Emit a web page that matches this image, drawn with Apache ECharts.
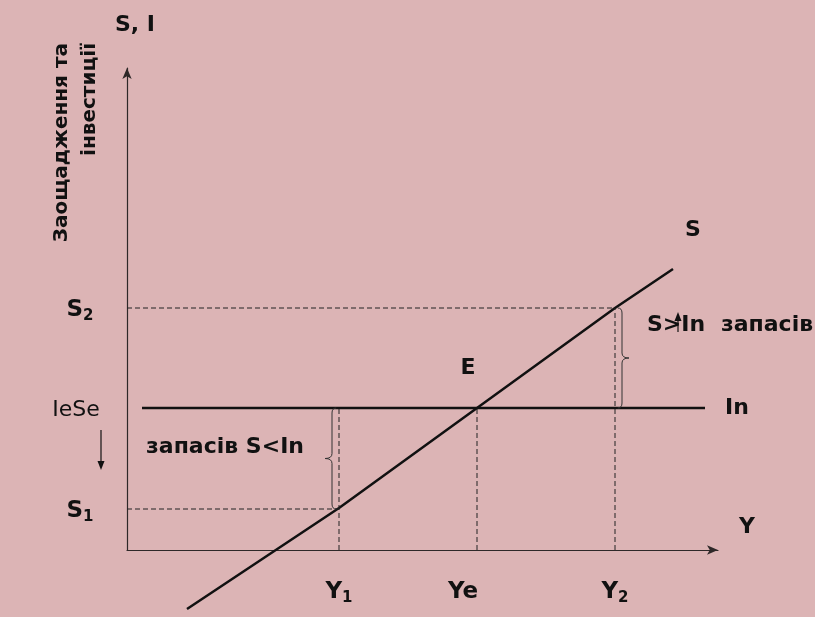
<!DOCTYPE html>
<html>
<head>
<meta charset="utf-8">
<script src="https://cdn.jsdelivr.net/npm/echarts@6/dist/echarts.min.js"></script>
<style>
  html, body { margin: 0; padding: 0; background: #dcb4b5; }
  #main { width: 815px; height: 617px; }
</style>
</head>
<body>
<div id="main"></div>
<script>
// schematic units: x = income Y, y = savings / investment
var yTickValues = [41, 142, 242];
var yTickNames = ["S1", "IeSe", "S2"];
var xTickValues = [212, 350, 488];
var xTickNames = ["Y1", "Ye", "Y2"];

// savings line S
var sLineX = [60, 212, 350, 488, 546];
var sLineY = [-59, 42, 142, 242, 281];

// investment line In
var inX = [15, 578];
var inLevel = 142;

// dashed guides [x0, y0, x1, y1]
var guides = [
  [0, 242, 488, 242],
  [0, 41, 212, 41],
  [212, 0, 212, 142],
  [350, 0, 350, 142],
  [488, 0, 488, 242]
];

// braces [x, yFrom, yTo, tipDirection]
var braces = [
  [205, 41, 142, -1],
  [495, 142, 242, 1]
];

// small arrows [x, yFrom, yTo]
var arrows = [
  [-26, 120, 80],
  [551, 218, 238]
];

// text notes
var noteText = ["S, I", "S", "E", "In", "Y", "S>In", "запасів", "запасів S<In"];
var noteX = [8, 566, 341, 610, 620, 549, 640, 98];
var noteY = [525, 320, 182, 142, 23, 225, 225, 103];

var sideText = ["Заощадження та", "інвестиції"];
var sideX = [-65, -37];
var sideY = [507, 507];

var BOLD = "DejaVu Sans";

function lineSeries(pts, style) {
  return {
    type: "line",
    data: pts,
    symbol: "none",
    silent: true,
    clip: false,
    lineStyle: style,
    z: 3
  };
}

var series = [];

series.push(lineSeries(sLineX.map(function (x, i) { return [x, sLineY[i]]; }),
  { color: "#111", width: 2.5 }));
series.push(lineSeries([[inX[0], inLevel], [inX[1], inLevel]],
  { color: "#111", width: 2.5 }));

guides.forEach(function (g) {
  series.push(lineSeries([[g[0], g[1]], [g[2], g[3]]],
    { color: "#222", width: 1, type: [5, 3] }));
});

series.push({
  type: "custom",
  silent: true,
  clip: false,
  data: braces,
  renderItem: function (params, api) {
    var x = api.value(0), d = api.value(3);
    var a = api.coord([x, api.value(1)]);
    var b = api.coord([x, api.value(2)]);
    var top = Math.min(a[1], b[1]), bot = Math.max(a[1], b[1]);
    var mid = (top + bot) / 2, px = a[0], w = 7 * d, c = 5;
    var path = "M" + (px - w * 0.6) + " " + bot +
      " Q" + px + " " + bot + " " + px + " " + (bot - c) +
      " L" + px + " " + (mid + c) +
      " Q" + px + " " + mid + " " + (px + w) + " " + mid +
      " Q" + px + " " + mid + " " + px + " " + (mid - c) +
      " L" + px + " " + (top + c) +
      " Q" + px + " " + top + " " + (px - w * 0.6) + " " + top;
    return {
      type: "path",
      shape: { pathData: path },
      style: { fill: null, stroke: "#333", lineWidth: 1 }
    };
  },
  z: 4
});

series.push({
  type: "custom",
  silent: true,
  clip: false,
  data: arrows,
  renderItem: function (params, api) {
    var a = api.coord([api.value(0), api.value(1)]);
    var b = api.coord([api.value(0), api.value(2)]);
    var dir = b[1] > a[1] ? 1 : -1;
    return {
      type: "group",
      children: [
        { type: "line", shape: { x1: a[0], y1: a[1], x2: b[0], y2: b[1] - dir * 6 },
          style: { stroke: "#111", lineWidth: 1.2 } },
        { type: "polygon", shape: { points: [[b[0], b[1]], [b[0] - 3.5, b[1] - dir * 9], [b[0] + 3.5, b[1] - dir * 9]] },
          style: { fill: "#111" } }
      ]
    };
  },
  z: 6
});

series.push({
  type: "custom",
  silent: true,
  clip: false,
  data: noteX.map(function (x, i) { return [x, noteY[i]]; }),
  renderItem: function (params, api) {
    var p = api.coord([api.value(0), api.value(1)]);
    return {
      type: "text",
      x: p[0], y: p[1],
      style: {
        text: noteText[params.dataIndex],
        font: "bold 22px '" + BOLD + "'",
        fill: "#111",
        align: "center",
        verticalAlign: "middle"
      }
    };
  },
  z: 5
});

series.push({
  type: "custom",
  silent: true,
  clip: false,
  data: sideX.map(function (x, i) { return [x, sideY[i]]; }),
  renderItem: function (params, api) {
    var p = api.coord([api.value(0), api.value(1)]);
    return {
      type: "text",
      x: p[0], y: p[1],
      rotation: Math.PI / 2,
      style: {
        text: sideText[params.dataIndex],
        font: "bold 20px '" + BOLD + "'",
        fill: "#111",
        align: "right",
        verticalAlign: "middle"
      }
    };
  },
  z: 5
});

// tick labels (drawn as text next to the axes at the tick values)
function tickRich(name) {
  if (name === "IeSe") return "{r|IeSe}";
  if (name === "Ye") return "{b|Ye}";
  return "{b|" + name.charAt(0) + "}{s|" + name.slice(1) + "}";
}

var rich = {
  b: { fontFamily: BOLD, fontWeight: "bold", fontSize: 23, fill: "#111", lineHeight: 23, verticalAlign: "top" },
  s: { fontFamily: BOLD, fontWeight: "bold", fontSize: 15, fill: "#111", lineHeight: 15, padding: [13, 0, 0, 0] },
  r: { fontFamily: BOLD, fontSize: 22, fill: "#111", lineHeight: 24 }
};

var tickData = [];
xTickValues.forEach(function (v, i) { tickData.push([v, 0, 0, i]); });
yTickValues.forEach(function (v, i) { tickData.push([0, v, 1, i]); });

series.push({
  type: "custom",
  silent: true,
  clip: false,
  data: tickData,
  renderItem: function (params, api) {
    var isY = api.value(2) === 1, i = api.value(3);
    var p = api.coord([api.value(0), api.value(1)]);
    var name = isY ? yTickNames[i] : xTickNames[i];
    var x = isY ? p[0] - (name === "IeSe" ? 51 : 47) : p[0] + (name === "Ye" ? -14 : 0);
    var y = isY ? p[1] + 2 : p[1] + 42;
    return {
      type: "text",
      x: x, y: y,
      style: {
        text: tickRich(name),
        rich: rich,
        fill: "#111",
        align: "center",
        verticalAlign: "middle"
      }
    };
  },
  z: 5
});

var option = {
  backgroundColor: "#dcb4b5",
  animation: false,
  grid: { left: 127, right: 97, top: 68, bottom: 67, outerBoundsMode: "none", containLabel: false },
  xAxis: {
    type: "value",
    min: 0,
    max: 591,
    splitLine: { show: false },
    axisTick: { show: false },
    axisLabel: { show: false },
    axisLine: { lineStyle: { color: "#2e2828", width: 1.2 }, symbol: ["none", "arrow"], symbolSize: [7, 11] }
  },
  yAxis: {
    type: "value",
    min: 0,
    max: 482,
    splitLine: { show: false },
    axisTick: { show: false },
    axisLabel: { show: false },
    axisLine: { lineStyle: { color: "#2e2828", width: 1.2 }, symbol: ["none", "arrow"], symbolSize: [7, 11] }
  },
  series: series
};

var myChart = echarts.init(document.getElementById("main"));
myChart.setOption(option);
</script>
</body>
</html>
